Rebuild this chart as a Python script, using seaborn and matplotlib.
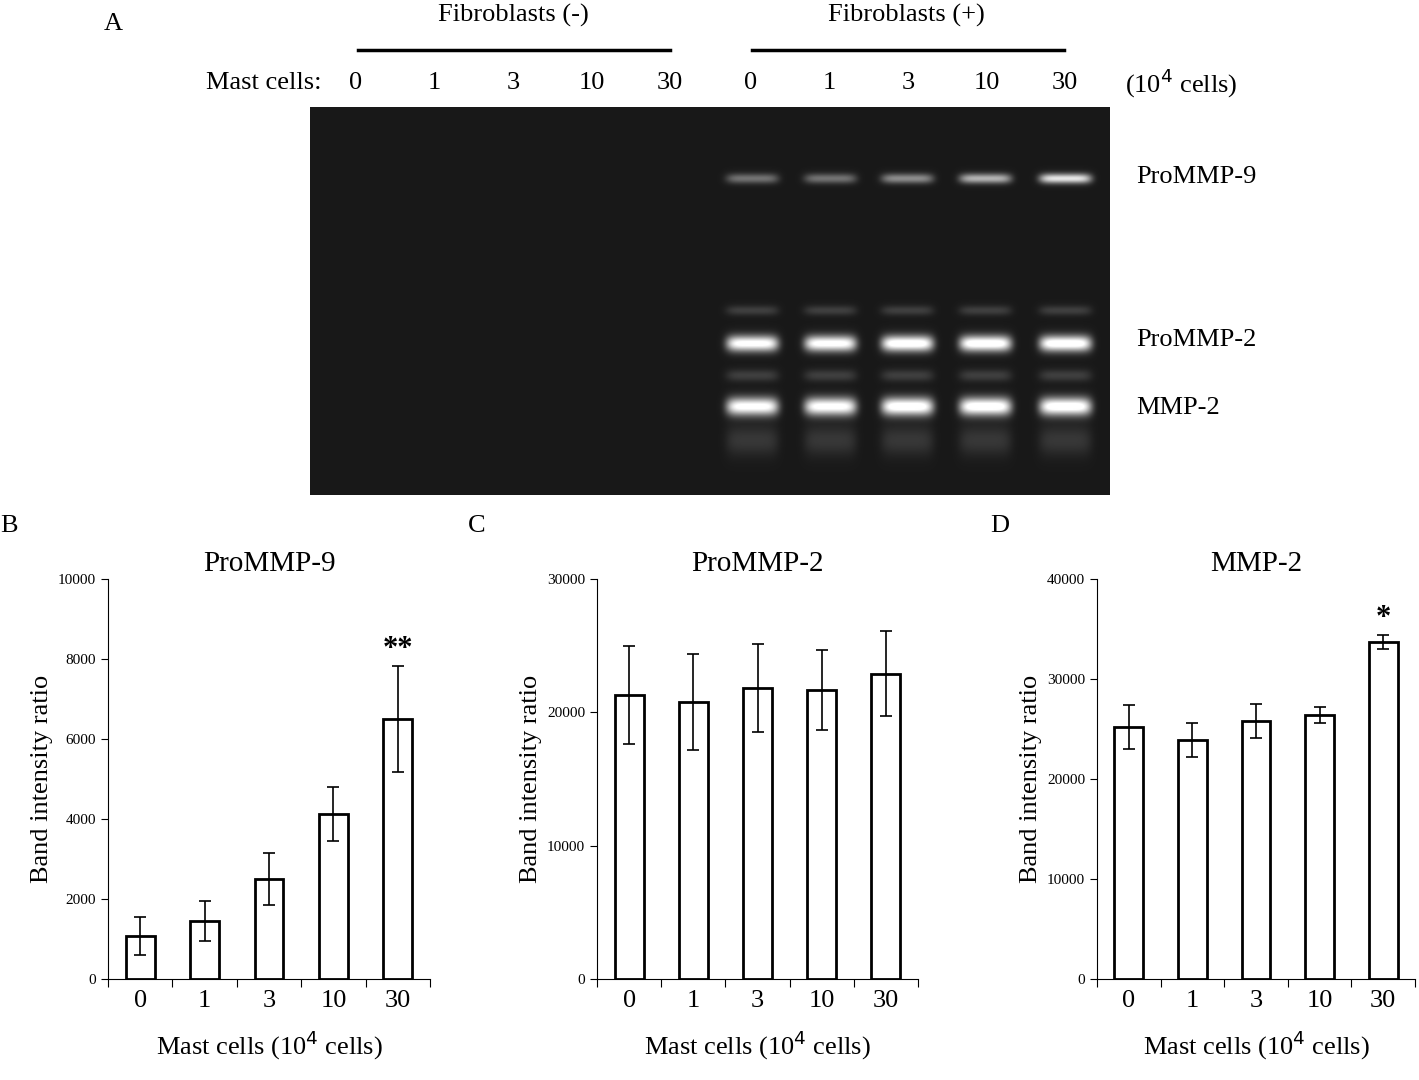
import numpy as np
import pandas as pd
import matplotlib
matplotlib.use("Agg")
import matplotlib.pyplot as plt
import seaborn as sns

plt.rcParams["font.family"] = "Liberation Serif"

doses = ["0", "1", "3", "10", "30"]
prommp9_mean = [1080, 1460, 2500, 4130, 6500]
prommp9_err = [480, 500, 650, 680, 1330]
prommp2_mean = [21300, 20800, 21800, 21700, 22900]
prommp2_err = [3700, 3600, 3300, 3000, 3200]
mmp2_mean = [25200, 23900, 25800, 26400, 33700]
mmp2_err = [2200, 1700, 1700, 800, 700]

# gel band intensities (fibroblasts + lanes)
gel_prommp9 = [0.35, 0.35, 0.45, 0.6, 0.8]
gel_prommp2 = [0.95, 0.95, 1.0, 1.0, 1.0]
gel_mmp2 = [0.95, 0.95, 1.0, 1.0, 1.0]

W, H = 1419, 1080
fig = plt.figure(figsize=(W / 100, H / 100), dpi=100)

def ax_px(x0, y0, x1, y1):
    return fig.add_axes([x0 / W, 1 - y1 / H, (x1 - x0) / W, (y1 - y0) / H])

# ---- gel ----
gax = ax_px(310, 107, 1110, 495)
xs = np.arange(310, 1110)
ys = np.arange(107, 495)
X, Y = np.meshgrid(xs, ys)
img = np.full(X.shape, 0.1)
lanes = [752, 830, 907, 985, 1065]
for i, cx in enumerate(lanes):
    lx = np.exp(-((X - cx) / 26.0) ** 6)
    img += gel_prommp9[i] * lx * np.exp(-((Y - 178) / 5.0) ** 2)
    img += 0.15 * lx * np.exp(-((Y - 310) / 5.0) ** 2)
    img += gel_prommp2[i] * lx * np.exp(-((Y - 343) / 8.0) ** 2)
    img += 0.15 * lx * np.exp(-((Y - 375) / 6.0) ** 2)
    img += gel_mmp2[i] * lx * np.exp(-((Y - 406) / 9.0) ** 2)
    img += 0.12 * lx * np.exp(-((Y - 440) / 15.0) ** 2)
gax.imshow(np.clip(img, 0, 1), cmap="gray", vmin=0, vmax=1, aspect="auto",
           extent=[310, 1110, 495, 107])
gax.set_axis_off()

fs = 19
fig.text(104 / W, 1 - 24 / H, "A", fontsize=fs, va="center")
fig.text(513 / W, 1 - 15 / H, "Fibroblasts (-)", fontsize=fs, ha="center", va="center")
fig.text(906 / W, 1 - 15 / H, "Fibroblasts (+)", fontsize=fs, ha="center", va="center")
fig.add_artist(plt.Line2D([358 / W, 670 / W], [1 - 50 / H] * 2, color="black", lw=2.5))
fig.add_artist(plt.Line2D([752 / W, 1064 / W], [1 - 50 / H] * 2, color="black", lw=2.5))
fig.text(322 / W, 1 - 83 / H, "Mast cells:", fontsize=fs, ha="right", va="center")
for i, d in enumerate(doses):
    fig.text((356 + i * 78.5) / W, 1 - 83 / H, d, fontsize=fs, ha="center", va="center")
    fig.text((751 + i * 78.5) / W, 1 - 83 / H, d, fontsize=fs, ha="center", va="center")
fig.text(1125 / W, 1 - 83 / H, "(10$^4$ cells)", fontsize=fs, va="center")
for lbl, y in [("ProMMP-9", 177), ("ProMMP-2", 340), ("MMP-2", 408)]:
    fig.text(1136 / W, 1 - y / H, lbl, fontsize=fs, va="center")

# ---- bar panels ----
panels = [
    ("B", "ProMMP-9", prommp9_mean, prommp9_err, 10000, 2000, (108, 430), "**", 0),
    ("C", "ProMMP-2", prommp2_mean, prommp2_err, 30000, 10000, (597, 918), None, 468),
    ("D", "MMP-2", mmp2_mean, mmp2_err, 40000, 10000, (1097, 1415), "*", 990),
]
for letter, title, mean, err, ymax, step, (x0, x1), star, lx in panels:
    ax = ax_px(x0, 579, x1, 979)
    df = pd.DataFrame({"dose": doses, "val": mean})
    sns.barplot(data=df, x="dose", y="val", ax=ax, color="white",
                edgecolor="black", linewidth=2, width=0.45, order=doses)
    ax.errorbar(np.arange(5), mean, yerr=err, fmt="none", ecolor="black",
                elinewidth=1.2, capsize=4, capthick=1.2)
    ax.set_ylim(0, ymax)
    ax.set_xlim(-0.5, 4.5)
    ax.set_yticks(np.arange(0, ymax + 1, step))
    ax.tick_params(axis="y", labelsize=11, direction="out", length=5)
    ax.set_xticks(np.arange(-0.5, 5, 1.0))
    ax.set_xticks(np.arange(5), minor=True)
    ax.set_xticklabels([])
    ax.set_xticklabels(doses, minor=True)
    ax.tick_params(axis="x", which="major", direction="out", length=6)
    ax.tick_params(axis="x", which="minor", length=0, labelsize=fs, pad=8)
    for s in ["top", "right"]:
        ax.spines[s].set_visible(False)
    ax.set_xlabel("Mast cells (10$^4$ cells)", fontsize=fs, labelpad=12)
    ax.set_ylabel("Band intensity ratio", fontsize=fs)
    ax.set_title(title, fontsize=fs + 2, pad=6)
    if star:
        ax.text(4, mean[4] + err[4] + ymax * 0.005, star, ha="center", va="bottom",
                fontsize=22, fontweight="bold")
    fig.text(lx / W, 1 - 526 / H, letter, fontsize=fs, va="center")

fig.savefig("out.png", dpi=100, facecolor="white")
